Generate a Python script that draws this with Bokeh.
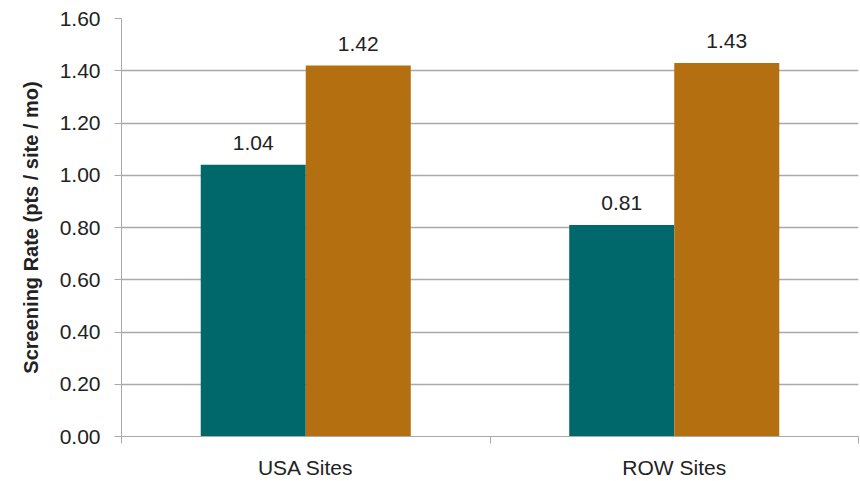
from bokeh.plotting import figure
from bokeh.models import ColumnDataSource, FixedTicker, Range1d, LabelSet
from bokeh.core.properties import value
from bokeh.embed import file_html
from bokeh.resources import INLINE

# Screening rate per site group, two periods
categories = ["USA Sites", "ROW Sites"]
series_a = [1.04, 0.81]
series_b = [1.42, 1.43]
y_ticks = [0.0, 0.2, 0.4, 0.6, 0.8, 1.0, 1.2, 1.4, 1.6]

TEAL = "#00686b"
ORANGE = "#b36f10"
GRID = "#a9a9a9"
TEXT = "#222222"
FONT = "Liberation Sans"

bar_w = 0.285      # each bar as a fraction of a category slot
centers = [i + 0.5 for i in range(len(categories))]

src_a = ColumnDataSource(dict(
    x=[c - bar_w / 2 for c in centers], top=series_a,
    label=[f"{v:.2f}" for v in series_a]))
src_b = ColumnDataSource(dict(
    x=[c + bar_w / 2 for c in centers], top=series_b,
    label=[f"{v:.2f}" for v in series_b]))

p = figure(width=860, height=481, output_backend="svg", toolbar_location=None,
           x_range=Range1d(0, len(categories)), y_range=Range1d(0, 1.6),
           min_border_left=121, min_border_right=2, min_border_top=18,
           min_border_bottom=45)
p.outline_line_color = None
p.background_fill_color = "white"
p.border_fill_color = "white"

p.vbar(x="x", top="top", width=bar_w, source=src_a, color=TEAL, line_color=None)
p.vbar(x="x", top="top", width=bar_w, source=src_b, color=ORANGE, line_color=None)

for src in (src_a, src_b):
    p.add_layout(LabelSet(x="x", y="top", text="label", source=src,
                          text_align="center", text_baseline="alphabetic",
                          y_offset=15, text_font_size="21px",
                          text_font=value(FONT), text_color=TEXT))

# y axis
p.yaxis.ticker = FixedTicker(ticks=y_ticks)
p.yaxis.formatter.use_scientific = False
p.yaxis.major_label_overrides = {t: f"{t:.2f}" for t in y_ticks}
p.yaxis.axis_label = "Screening Rate (pts / site / mo)"
p.yaxis.axis_label_text_font = FONT
p.yaxis.axis_label_text_font_style = "bold"
p.yaxis.axis_label_text_font_size = "20px"
p.yaxis.axis_label_text_color = TEXT
p.yaxis.axis_label_standoff = 15
p.yaxis.major_label_text_font = FONT
p.yaxis.major_label_text_font_size = "21px"
p.yaxis.major_label_text_color = TEXT
p.yaxis.major_label_standoff = 14
p.yaxis.axis_line_color = GRID
p.yaxis.major_tick_line_color = GRID
p.yaxis.major_tick_out = 7
p.yaxis.major_tick_in = 0
p.yaxis.minor_tick_line_color = None

# x axis: labels at category centres, tick marks at category boundaries
p.xaxis.ticker = FixedTicker(ticks=centers,
                             minor_ticks=list(range(len(categories) + 1)))
p.xaxis.major_label_overrides = {c: name for c, name in zip(centers, categories)}
p.xaxis.major_label_text_font = FONT
p.xaxis.major_label_text_font_size = "21px"
p.xaxis.major_label_text_color = TEXT
p.xaxis.major_label_standoff = 12
p.xaxis.axis_line_color = GRID
p.xaxis.major_tick_line_color = None
p.xaxis.minor_tick_line_color = GRID
p.xaxis.minor_tick_out = 7
p.xaxis.minor_tick_in = 0

p.xgrid.grid_line_color = None
p.ygrid.grid_line_color = GRID
p.ygrid.grid_line_width = 1.5

open("out.html", "w").write(file_html(p, INLINE))
